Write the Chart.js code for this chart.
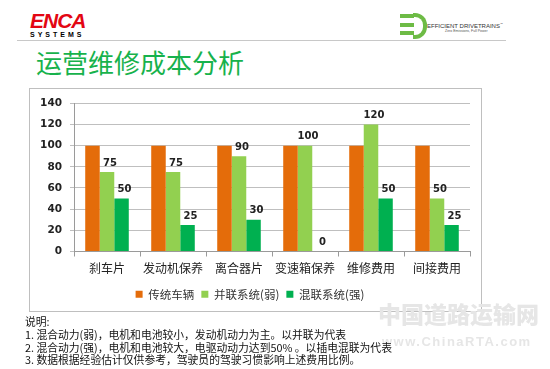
<!DOCTYPE html>
<html><head><meta charset="utf-8">
<script src="https://cdn.jsdelivr.net/npm/chart.js@4"></script>
<style>
body{margin:0;width:550px;height:369px;background:#fff;position:relative;overflow:hidden;font-family:"Noto Sans CJK SC",sans-serif;}
.abs{position:absolute;white-space:nowrap;}
#box{left:29px;top:88px;width:451px;height:222px;border:1px solid #bfbfbf;}
</style></head><body>
<div class="abs" style="left:30px;top:10px;font:italic 900 21px 'Liberation Sans',Arial;color:#e30613;letter-spacing:-1px;line-height:22px;">ENCA</div>
<div class="abs" style="left:30px;top:31px;font:900 7px 'Liberation Sans',Arial;color:#000;letter-spacing:3px;">SYSTEMS</div>
<div class="abs" style="left:400px;top:14px;width:14px;height:4px;background:#6dbb45"></div>
<div class="abs" style="left:400px;top:23px;width:14px;height:4px;background:#6dbb45"></div>
<div class="abs" style="left:400px;top:31px;width:14px;height:4px;background:#6dbb45"></div>
<div class="abs" style="left:413px;top:13px;width:10px;height:18px;border:4px solid #6dbb45;border-left:none;border-radius:0 12px 12px 0"></div>
<div class="abs" style="left:427px;top:22px;font:6px 'Liberation Sans',Arial;color:#333;">EFFICIENT DRIVETRAINS<sup style="font-size:3px">™</sup></div>
<div class="abs" style="left:445px;top:29px;font:3.5px 'Liberation Sans',Arial;color:#555;">Zero Emissions, Full Power</div>
<div class="abs" style="left:17px;top:40px;width:489px;height:1px;background:#c8c8c8"></div>
<div class="abs" style="left:36px;top:45px;font:26px 'Noto Sans CJK SC';color:#17b24c;line-height:34px;">运营维修成本分析</div>
<div id="box" class="abs"><canvas id="c" width="451" height="222"></canvas></div>
<div class="abs" style="left:378px;top:298px;font:900 23px 'Noto Sans CJK SC';color:#e6e6e6;letter-spacing:0px;line-height:30px;">中国道路运输网</div>
<div class="abs" style="left:382px;top:334px;font:900 13px 'Liberation Sans',Arial;color:#e6e6e6;letter-spacing:1.5px;">www.ChinaRTA.com</div>
<div class="abs" style="left:25px;top:315px;font:10.8px 'Noto Sans CJK SC';color:#111;line-height:12.8px;white-space:pre;">说明:
1. 混合动力(弱)，电机和电池较小，发动机动力为主。以并联为代表
2. 混合动力(强)，电机和电池较大，电驱动动力达到50% 。以插电混联为代表
3. 数据根据经验估计仅供参考，驾驶员的驾驶习惯影响上述费用比例。</div>
<script>
const categories=["刹车片","发动机保养","离合器片","变速箱保养","维修费用","间接费用"];
const seriesNames=["传统车辆","并联系统(弱)","混联系统(强)"];
const conventional=[100,100,100,100,100,100];
const parallelWeak=[75,75,90,100,120,50];
const seriesStrong=[50,25,30,0,50,25];
const yTicks=[0,20,40,60,80,100,120,140];
const colors=["#e46c0a","#92d050","#00b050"];

const labelPlugin={id:"lbl",afterDatasetsDraw(chart){
  const ctx=chart.ctx;ctx.save();
  ctx.font="bold 10px 'DejaVu Sans'";ctx.fillStyle="#222";ctx.textAlign="center";ctx.textBaseline="bottom";
  [1,2].forEach(di=>{
    const meta=chart.getDatasetMeta(di);
    meta.data.forEach((el,i)=>{
      const v=chart.data.datasets[di].data[i];
      ctx.fillText(String(v),el.x+3,el.y-4);
    });
  });
  ctx.restore();
}};

new Chart(document.getElementById("c"),{
  type:"bar",
  data:{labels:categories,datasets:[
    {label:seriesNames[0],data:conventional,backgroundColor:colors[0]},
    {label:seriesNames[1],data:parallelWeak,backgroundColor:colors[1]},
    {label:seriesNames[2],data:seriesStrong,backgroundColor:colors[2]}
  ]},
  options:{responsive:false,animation:false,
    layout:{padding:{top:2,right:11,left:0,bottom:1}},
    datasets:{bar:{categoryPercentage:0.66,barPercentage:1,borderWidth:0}},
    plugins:{tooltip:{enabled:false},
      legend:{position:"bottom",labels:{boxWidth:7,boxHeight:7,padding:7,color:"#333",font:{size:11.5,family:"'Noto Sans CJK SC'"}},
        onClick:null}},
    scales:{
      y:{min:0,max:140,afterBuildTicks(s){s.ticks=yTicks.map(v=>({value:v}));},
        afterFit(s){s.width=44;},
        ticks:{color:"#222",font:{size:10.5,weight:"bold",family:"'DejaVu Sans'"},padding:8},
        grid:{color:"#bfbfbf",tickLength:4,drawTicks:true},
        border:{color:"#9a9a9a"}},
      x:{grid:{offset:true,drawOnChartArea:false,tickLength:5,color:"#9a9a9a"},
        border:{color:"#9a9a9a"},
        afterFit(s){s.height=30;},
        ticks:{color:"#222",maxRotation:0,minRotation:0,autoSkip:false,font:{size:12,family:"'Noto Sans CJK SC'"},padding:5}}
    }
  },
  plugins:[labelPlugin]
});
</script>
</body></html>
